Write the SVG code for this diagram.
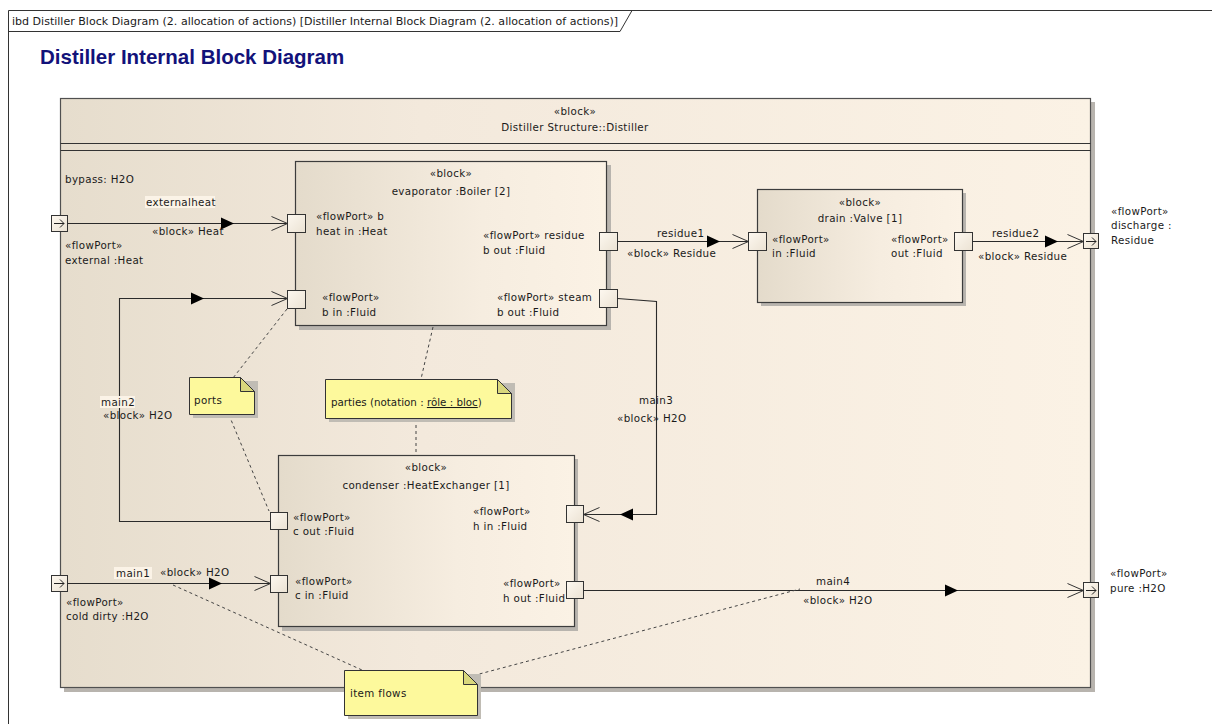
<svg xmlns="http://www.w3.org/2000/svg" width="1212" height="724" viewBox="0 0 1212 724">
<defs>
<linearGradient id="gBlock" x1="0" y1="0" x2="1" y2="0">
<stop offset="0" stop-color="#e4dbcb"/><stop offset="0.6" stop-color="#f6ede0"/><stop offset="1" stop-color="#fbf2e5"/>
</linearGradient>
<linearGradient id="gDist" x1="0" y1="0" x2="1" y2="0">
<stop offset="0" stop-color="#e6ddcd"/><stop offset="0.35" stop-color="#f3e9dc"/><stop offset="1" stop-color="#fbf2e5"/>
</linearGradient>
<linearGradient id="gPort" x1="0" y1="0" x2="1" y2="1">
<stop offset="0" stop-color="#fdf8f0"/><stop offset="1" stop-color="#ebe2d3"/>
</linearGradient>
<marker id="open" markerWidth="20" markerHeight="20" refX="17" refY="8" orient="auto" markerUnits="userSpaceOnUse">
<path d="M1,1 L17,8 L1,15" fill="none" stroke="#333" stroke-width="1"/>
</marker>
<path id="tri" d="M-6,-6 L7,0 L-6,6 Z"/>
</defs>
<style>
text{font-family:"DejaVu Sans","Liberation Sans",sans-serif;font-size:10.3px;letter-spacing:0.35px;fill:#1a1a1a}
.c{text-anchor:middle}
.title{font-family:"Liberation Sans",Arial,sans-serif;font-size:20.5px;font-weight:bold;letter-spacing:0;fill:#12127a}
.hdr{font-size:9.8px;letter-spacing:0}
.blk{stroke:#3c3c3c;stroke-width:1.2;fill:url(#gBlock)}
.sh{fill:#b8b4ae}
.port{stroke:#333;stroke-width:1;fill:url(#gPort)}
.conn{fill:none;stroke:#2a2a2a;stroke-width:1.1}
.tri{fill:#000}
.dash{fill:none;stroke:#444;stroke-width:1;stroke-dasharray:3,3}
.note{fill:#fdf99c;stroke:#333;stroke-width:1}
.fold{fill:#d9d77c;stroke:#333;stroke-width:1}
.nsh{fill:#c0bcb4}
.lbg{fill:#fbf3e7}
.arr{fill:none;stroke:#222;stroke-width:1}
</style>
<rect width="1212" height="724" fill="#ffffff"/>

<!-- Frame -->
<g id="frame">
<path d="M8.5,724 L8.5,10.5 L1212,10.5" fill="none" stroke="#333" stroke-width="1"/>
<path d="M8.5,31.5 L620,31.5 L632,10.5" fill="none" stroke="#333" stroke-width="1"/>
<text class="hdr" x="12" y="25" textLength="606" lengthAdjust="spacingAndGlyphs">ibd Distiller Block Diagram (2. allocation of actions) [Distiller Internal Block Diagram (2. allocation of actions)]</text>
<text class="title" x="40" y="64">Distiller Internal Block Diagram</text>
</g>

<!-- Distiller -->
<g id="distiller">
<rect class="sh" x="64" y="102" width="1031" height="590"/>
<rect x="60.5" y="98.5" width="1030" height="589" fill="url(#gDist)" stroke="#505050" stroke-width="1.2"/>
<line x1="60.5" y1="143.5" x2="1090.5" y2="143.5" stroke="#333" stroke-width="1"/>
<line x1="60.5" y1="150.5" x2="1090.5" y2="150.5" stroke="#333" stroke-width="1"/>
<text class="c" x="575" y="115">«block»</text>
<text class="c" x="575" y="131">Distiller Structure::Distiller</text>
<text x="65" y="183">bypass: H2O</text>
</g>

<!-- Evaporator -->
<g id="evaporator">
<rect class="sh" x="299" y="165" width="312" height="165"/>
<rect class="blk" x="295.5" y="161.5" width="311" height="164"/>
<text class="c" x="451" y="177">«block»</text>
<text class="c" x="451" y="195">evaporator :Boiler [2]</text>
<rect class="port" x="287.5" y="214.5" width="18" height="18"/>
<text x="316" y="220">«flowPort» b</text>
<text x="316" y="235">heat in :Heat</text>
<rect class="port" x="287.5" y="290.5" width="18" height="18"/>
<text x="322" y="301">«flowPort»</text>
<text x="322" y="316">b in :Fluid</text>
<rect class="port" x="599.5" y="232.5" width="18" height="18"/>
<text x="483" y="239">«flowPort» residue</text>
<text x="483" y="254">b out :Fluid</text>
<rect class="port" x="599.5" y="289.5" width="18" height="18"/>
<text x="497" y="301">«flowPort» steam</text>
<text x="497" y="316">b out :Fluid</text>
</g>

<!-- Drain -->
<g id="drain">
<rect class="sh" x="761" y="193" width="205" height="113"/>
<rect class="blk" x="757.5" y="189.5" width="205" height="113"/>
<text class="c" x="860" y="206">«block»</text>
<text class="c" x="860" y="222">drain :Valve [1]</text>
<rect class="port" x="748.5" y="232.5" width="18" height="18"/>
<text x="772" y="243">«flowPort»</text>
<text x="772" y="257">in :Fluid</text>
<rect class="port" x="954.5" y="232.5" width="18" height="18"/>
<text x="891" y="243">«flowPort»</text>
<text x="891" y="257">out :Fluid</text>
</g>

<!-- Condenser -->
<g id="condenser">
<rect class="sh" x="282" y="459" width="296" height="172"/>
<rect class="blk" x="278.5" y="455.5" width="296" height="171"/>
<text class="c" x="426" y="471">«block»</text>
<text class="c" x="426" y="489">condenser :HeatExchanger [1]</text>
<rect class="port" x="270.5" y="512.5" width="17" height="17"/>
<text x="293" y="521">«flowPort»</text>
<text x="293" y="535">c out :Fluid</text>
<rect class="port" x="270.5" y="575.5" width="17" height="17"/>
<text x="295" y="585">«flowPort»</text>
<text x="295" y="599">c in :Fluid</text>
<rect class="port" x="566.5" y="505.5" width="17" height="17"/>
<text x="473" y="515">«flowPort»</text>
<text x="473" y="530">h in :Fluid</text>
<rect class="port" x="566.5" y="581.5" width="17" height="17"/>
<text x="503" y="587">«flowPort»</text>
<text x="503" y="602">h out :Fluid</text>
</g>

<!-- Boundary ports -->
<g id="port-external">
<rect class="port" x="51.5" y="215.5" width="16" height="16"/>
<path class="arr" d="M54,223.5 L64,223.5 M60,219.5 L64,223.5 L60,227.5"/>
<text x="65" y="249">«flowPort»</text>
<text x="65" y="264">external :Heat</text>
</g>
<g id="port-colddirty">
<rect class="port" x="51.5" y="575.5" width="16" height="16"/>
<path class="arr" d="M54,583.5 L64,583.5 M60,579.5 L64,583.5 L60,587.5"/>
<text x="66" y="606">«flowPort»</text>
<text x="66" y="620">cold dirty :H2O</text>
</g>
<g id="port-discharge">
<rect class="port" x="1083.5" y="233.5" width="15" height="15"/>
<path class="arr" d="M1086,241.5 L1096,241.5 M1092,237.5 L1096,241.5 L1092,245.5"/>
<text x="1111" y="215">«flowPort»</text>
<text x="1111" y="229">discharge :</text>
<text x="1111" y="244">Residue</text>
</g>
<g id="port-pure">
<rect class="port" x="1083.5" y="582.5" width="15" height="15"/>
<path class="arr" d="M1086,590.5 L1096,590.5 M1092,586.5 L1096,590.5 L1092,594.5"/>
<text x="1110" y="577">«flowPort»</text>
<text x="1110" y="592">pure :H2O</text>
</g>

<!-- Connectors -->
<g id="connectors">
<path class="conn" d="M67.5,223.5 L287.5,223.5" marker-end="url(#open)"/>
<use href="#tri" class="tri" transform="translate(227,223.5)"/>
<rect class="lbg" x="145" y="196" width="70" height="12"/>
<text x="146" y="206">externalheat</text>
<text x="152" y="235">«block» Heat</text>

<path class="conn" d="M617.5,241.5 L748.5,241.5" marker-end="url(#open)"/>
<use href="#tri" class="tri" transform="translate(713,241.5)"/>
<text x="657" y="237">residue1</text>
<text x="627" y="257">«block» Residue</text>

<path class="conn" d="M972.5,241.5 L1083.5,241.5" marker-end="url(#open)"/>
<use href="#tri" class="tri" transform="translate(1051,241.5)"/>
<text x="992" y="237">residue2</text>
<text x="978" y="260">«block» Residue</text>

<path class="conn" d="M270.5,521.5 L119.5,521.5 L119.5,298.5 L287.5,298.5" marker-end="url(#open)"/>
<use href="#tri" class="tri" transform="translate(197,298.5)"/>
<rect class="lbg" x="100" y="396" width="35" height="12"/>
<text x="101" y="406">main2</text>
<text x="103" y="419">«block» H2O</text>

<path class="conn" d="M617.5,298.5 L656.5,301.5 L656.5,514.5 L583.5,514.5" marker-end="url(#open)"/>
<use href="#tri" class="tri" transform="translate(627,514.5) rotate(180)"/>
<text x="639" y="404">main3</text>
<text x="617" y="422">«block» H2O</text>

<path class="conn" d="M67.5,583.5 L270.5,583.5" marker-end="url(#open)"/>
<use href="#tri" class="tri" transform="translate(215,583.5)"/>
<rect class="lbg" x="114" y="567" width="38" height="12"/>
<text x="116" y="577">main1</text>
<text x="160" y="576">«block» H2O</text>

<path class="conn" d="M583.5,590.5 L1083.5,590.5" marker-end="url(#open)"/>
<use href="#tri" class="tri" transform="translate(951,590.5)"/>
<text x="816" y="585">main4</text>
<text x="803" y="604">«block» H2O</text>
</g>

<!-- Notes -->
<g id="note-links">
<path class="dash" d="M287,309 L233,378"/>
<path class="dash" d="M229,415 L269,511"/>
<path class="dash" d="M433,327 L421,379"/>
<path class="dash" d="M416,419 L416,455"/>
<path class="dash" d="M173,585 L362,670"/>
<path class="dash" d="M468,677 L800,589"/>
</g>
<g id="note-ports">
<path class="nsh" d="M193,381 L258,381 L258,418 L193,418 Z"/>
<path class="note" d="M189.5,377.5 L240.5,377.5 L254.5,391.5 L254.5,414.5 L189.5,414.5 Z"/>
<path class="fold" d="M240.5,377.5 L240.5,391.5 L254.5,391.5 Z"/>
<text x="194" y="404">ports</text>
</g>
<g id="note-parties">
<path class="nsh" d="M329,383 L515,383 L515,422 L329,422 Z"/>
<path class="note" d="M325.5,379.5 L497.5,379.5 L511.5,393.5 L511.5,418.5 L325.5,418.5 Z"/>
<path class="fold" d="M497.5,379.5 L497.5,393.5 L511.5,393.5 Z"/>
<text x="331" y="406" style="letter-spacing:0">parties (notation : <tspan text-decoration="underline">rôle : bloc</tspan>)</text>
</g>
<g id="note-itemflows">
<path class="nsh" d="M348,674 L481,674 L481,719 L348,719 Z"/>
<path class="note" d="M344.5,670.5 L463.5,670.5 L477.5,684.5 L477.5,715.5 L344.5,715.5 Z"/>
<path class="fold" d="M463.5,670.5 L463.5,684.5 L477.5,684.5 Z"/>
<text x="350" y="697">item flows</text>
</g>
</svg>
